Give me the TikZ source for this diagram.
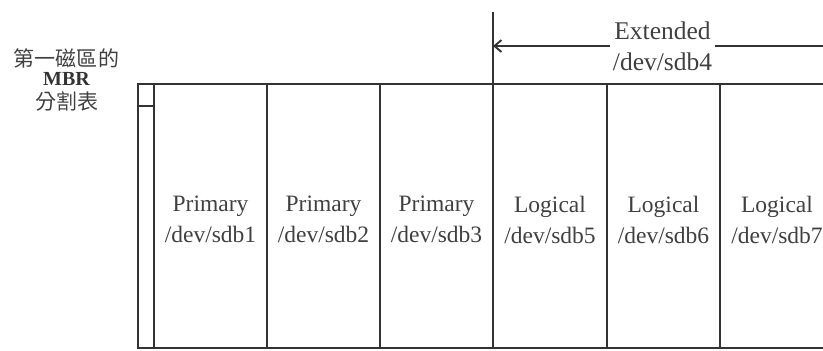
\documentclass[tikz,border=0pt]{standalone}
\usepackage{fontspec}
\setmainfont{Liberation Serif}
\newfontfamily\cjkfont{Noto Sans CJK TC}
\usetikzlibrary{arrows.meta}
\begin{document}
\begin{tikzpicture}[x=1bp,y=-1bp,
  rule/.style={line width=1.9bp, draw=black!80},
  lbl/.style={align=center, inner sep=0pt, text=black!75, font=\fontsize{23.5bp}{31bp}\selectfont},
  extlbl/.style={align=center, inner sep=3bp, text=black!75, font=\fontsize{25.5bp}{31bp}\selectfont},
  cjk/.style={inner sep=0pt, text=black!75, font=\cjkfont\fontsize{21bp}{24bp}\selectfont},
  mbr/.style={inner sep=0pt, text=black!80, font=\bfseries\fontsize{20bp}{24bp}\selectfont},
  barb/.style={-{Straight Barb[length=7bp,width=12bp]}}]
\useasboundingbox (0,0) rectangle (823,350);
% frame
\coordinate (tl) at (138,84);
\coordinate (tr) at (823,84);
\coordinate (bl) at (138,348);
\coordinate (br) at (823,348);
\draw[rule] (tr) -- (tl) -- (bl) -- (br);
% MBR column
\coordinate (m1) at (154,84);
\coordinate (m2) at (154,348);
\draw[rule] (m1) -- (m2);
\coordinate (t1) at (138,106);
\coordinate (t2) at (154,106);
\draw[rule] (t1) -- (t2);
% dividers
\foreach \xx/\nm in {267/d1,380/d2,607/d4,720/d5}{
  \coordinate (\nm a) at (\xx,84);
  \coordinate (\nm b) at (\xx,348);
  \draw[rule] (\nm a) -- (\nm b);
}
\coordinate (d3a) at (493,12);
\coordinate (d3b) at (493,348);
\draw[rule] (d3a) -- (d3b);
% extended label and arrow
\node[extlbl] (ext) at (662.5,45.8) {Extended\\/dev/sdb4};
\coordinate (extL) at (493,46);
\coordinate (extR) at (823,46);
\draw[rule] (extR) -- (ext.east |- extR);
\draw[rule,barb] (ext.west |- extL) -- (extL);
% partition labels
\node[lbl] (p1) at (210.5,219.5) {Primary\\/dev/sdb1};
\node[lbl] (p2) at (323.5,219.5) {Primary\\/dev/sdb2};
\node[lbl] (p3) at (436.5,219.5) {Primary\\/dev/sdb3};
\node[lbl] (l5) at (550,219.5) {Logical\\/dev/sdb5};
\node[lbl] (l6) at (663.5,219.5) {Logical\\/dev/sdb6};
\node[lbl] (l7) at (777,219.5) {Logical\\/dev/sdb7};
% MBR caption
\node[cjk] (c1) at (66.5,58.5) {第一磁區的};
\node[mbr] (c2) at (66.5,78.5) {MBR};
\node[cjk] (c3) at (66.5,101) {分割表};
\end{tikzpicture}
\end{document}
